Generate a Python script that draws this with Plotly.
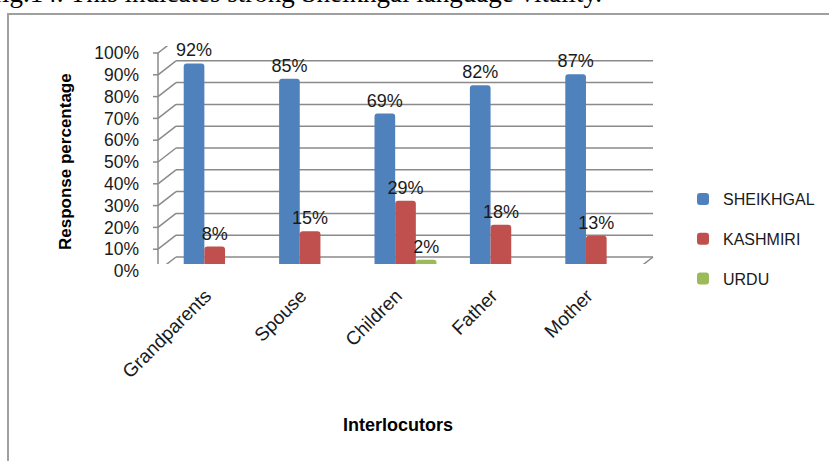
import plotly.graph_objects as go

# ---- data ----
categories = ["Grandparents", "Spouse", "Children", "Father", "Mother"]
sheikhgal = [0.92, 0.85, 0.69, 0.82, 0.87]
kashmiri = [0.08, 0.15, 0.29, 0.18, 0.13]
urdu = [0.0, 0.0, 0.02, 0.0, 0.0]
series_names = ["SHEIKHGAL", "KASHMIRI", "URDU"]
series_colors = ["#4F81BD", "#C0504D", "#9BBB59"]
y_ticks = [i / 10 for i in range(11)]

# ---- layout geometry ----
W, H = 829, 461
ML, MR, MT, MB = 167, 185, 46, 197
PW, PH = W - ML - MR, H - MT - MB
DX, DY = 9, 7  # half depth of the pseudo-3D box (pixels)


def px_x(p):
    return (p - ML) / PW


def px_y(p):
    return (H - MB - p) / PH


fig = go.Figure()
for name, vals, col in zip(series_names, [sheikhgal, kashmiri, urdu], series_colors):
    fig.add_trace(go.Bar(
        name=name, x=categories, y=vals,
        marker=dict(color=col, line=dict(width=0), cornerradius=3),
        text=[f"{round(v * 100)}%" if v > 0 else "" for v in vals],
        textposition="outside", constraintext="none", cliponaxis=False,
        textfont=dict(family="Liberation Sans", size=18, color="#1a1a1a"),
        legendgroup=name, hoverinfo="skip",
    ))

GRID = "#8a8a8a"
shapes = []


def seg(xanchor, yanchor, x0, x1, y0, y1):
    # pixel offsets relative to the anchor; y offsets are positive upward
    shapes.append(dict(type="line", xref="paper", yref="y", xsizemode="pixel", ysizemode="pixel",
                       xanchor=xanchor, yanchor=yanchor, x0=x0, x1=x1, y0=y0, y1=y1,
                       line=dict(color=GRID, width=1.5), layer="below"))


for v in y_ticks:
    seg(0, v, -DX, DX, -DY, DY)            # side wall diagonal
    seg(0, v, DX, DX + PW, DY, DY)         # back wall line
    seg(0, v, -DX - 5, -DX, -DY, -DY)      # tick mark on the front axis
seg(0, 0, -DX, -DX, -DY, PH - DY)          # front vertical axis
seg(0, 0, -DX, PW - DX, -DY, -DY)          # floor front edge
seg(1, 0, -DX, DX, -DY, DY)                # floor right diagonal
for i in range(len(categories) + 1):
    seg(i / len(categories), 0, -DX, -DX, -DY, -DY - 6)   # category ticks

# outer chart border
shapes.append(dict(type="rect", xref="paper", yref="paper",
                   x0=px_x(8), x1=px_x(840), y0=px_y(14), y1=px_y(475),
                   line=dict(color="#a0a0a0", width=2), fillcolor="rgba(0,0,0,0)", layer="below"))

annotations = [
    dict(text="fig.14. This indicates strong Sheikhgal language vitality.", xref="paper", yref="paper",
         x=px_x(-9), y=px_y(-7), xanchor="left", yanchor="middle", showarrow=False,
         font=dict(family="Liberation Serif", size=27, color="#000000")),
    dict(text="<b>Response percentage</b>", xref="paper", yref="paper", x=px_x(65), y=px_y(162),
         xanchor="center", yanchor="middle", textangle=-90, showarrow=False,
         font=dict(family="Liberation Sans", size=17, color="#000000")),
    dict(text="<b>Interlocutors</b>", xref="paper", yref="paper", x=px_x(398), y=px_y(425),
         xanchor="center", yanchor="middle", showarrow=False,
         font=dict(family="Liberation Sans", size=18, color="#000000")),
]

fig.update_layout(
    width=W, height=H,
    margin=dict(l=ML, r=MR, t=MT, b=MB, autoexpand=False),
    paper_bgcolor="white", plot_bgcolor="rgba(0,0,0,0)",
    barmode="group", bargap=0.35, bargroupgap=0,
    shapes=shapes, annotations=annotations,
    showlegend=True,
    legend=dict(x=px_x(683), y=px_y(182), xanchor="left", yanchor="top",
                font=dict(family="Liberation Sans", size=16, color="#1a1a1a"),
                tracegroupgap=16, bgcolor="rgba(0,0,0,0)"),
    xaxis=dict(type="category", showgrid=False, showline=False, zeroline=False, ticks="",
               tickangle=-45, ticklabelshift=-DX, ticklabelstandoff=16,
               tickfont=dict(family="Liberation Sans", size=19, color="#1a1a1a"),
               fixedrange=True),
    yaxis=dict(range=[0, 1], tickvals=y_ticks, tickformat=".0%", showgrid=False, showline=False,
               zeroline=False, ticks="", ticklabelshift=DY, ticklabelstandoff=27,
               tickfont=dict(family="Liberation Sans", size=17.5, color="#1a1a1a"),
               fixedrange=True),
)

fig.write_html("out.html")
